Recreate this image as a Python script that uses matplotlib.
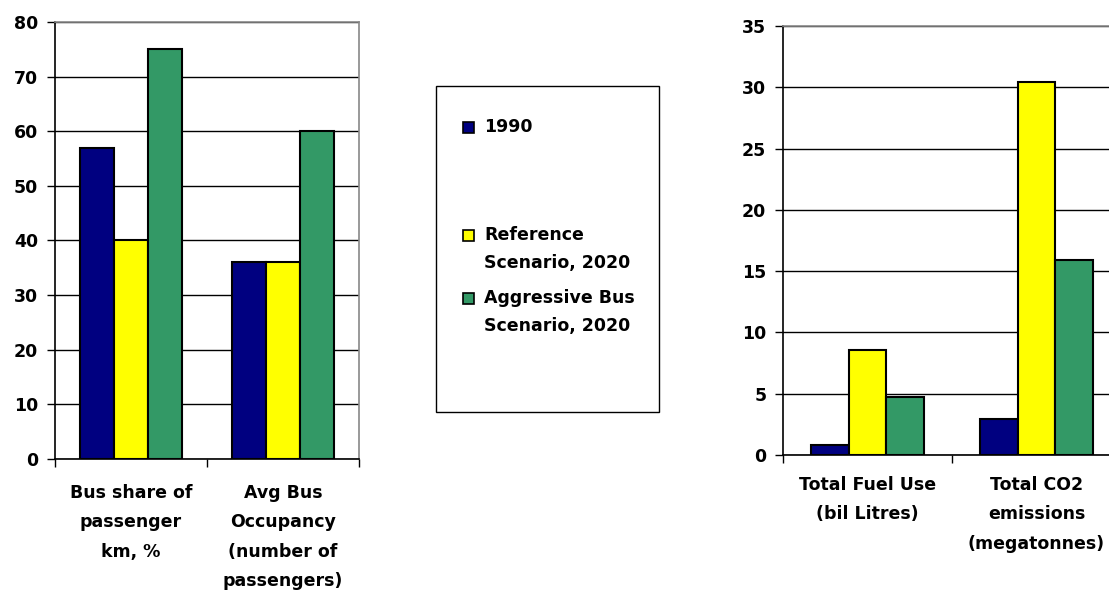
import numpy as np
import matplotlib
matplotlib.use("Agg")
import matplotlib.pyplot as plt
from matplotlib.patches import Rectangle

# data
series = ["1990", "Reference\nScenario, 2020", "Aggressive Bus\nScenario, 2020"]
colors = ["#000080", "#FFFF00", "#339966"]

left_cats = ["Bus share of\npassenger\nkm, %", "Avg Bus\nOccupancy\n(number of\npassengers)"]
left_vals = [[57, 36], [40, 36], [75, 60]]

right_cats = ["Total Fuel Use\n(bil Litres)", "Total CO2\nemissions\n(megatonnes)"]
right_vals = [[0.8, 2.9], [8.6, 30.4], [4.7, 15.9]]

plt.rcParams['font.family'] = ['DejaVu Sans']
plt.rcParams['font.weight'] = 'bold'
plt.rcParams['font.size'] = 12.5

fig = plt.figure(figsize=(11.09, 5.91), dpi=100)


def bar_panel(ax, cats, vals, ymax, ystep, pad):
    n = len(vals)
    w = 1 / (n + 1.5)
    x = np.arange(len(cats))
    for i, v in enumerate(vals):
        ax.bar(x + (i - (n - 1) / 2) * w, v, w, color=colors[i],
               edgecolor="black", linewidth=1.5, zorder=3)
    ax.set_xlim(-0.5, len(cats) - 0.5)
    ax.set_ylim(0, ymax)
    ax.set_yticks(np.arange(0, ymax + 0.1, ystep))
    ax.yaxis.grid(True, color="black", linewidth=1, zorder=0)
    ax.set_xticks(x)
    ax.set_xticklabels(cats, linespacing=1.82, va="top")
    ax.set_xticks(np.arange(-0.5, len(cats), 1), minor=True)
    ax.tick_params(axis="x", which="major", length=0, pad=pad)
    ax.tick_params(axis="x", which="minor", length=6, width=1)
    ax.tick_params(axis="y", length=6, width=1, pad=6)
    for t in ax.get_yticklabels() + ax.get_xticklabels():
        t.set_fontweight("bold")
    ax.spines["left"].set_color("black")
    ax.spines["bottom"].set_color("black")
    ax.spines["top"].set_color("#888888")
    ax.spines["right"].set_color("#888888")
    for s in ax.spines.values():
        s.set_linewidth(1.2)


ax1 = fig.add_axes([0.0496, 0.2234, 0.2741, 0.7394])
bar_panel(ax1, left_cats, left_vals, 80, 10, 18)

ax2 = fig.add_axes([0.706, 0.2301, 0.3048, 0.7259])
bar_panel(ax2, right_cats, right_vals, 35, 5, 15)

# legend box drawn in pixel-ish figure coords
W, H = 1109, 591
fig.patches.append(Rectangle((436 / W, 1 - 412 / H), (659 - 436) / W, (412 - 86) / H,
                             transform=fig.transFigure, facecolor="white",
                             edgecolor="black", linewidth=1))
ys = [127, 249, 312]
for lab, col, yc in zip(series, colors, ys):
    first_line_y = yc if "\n" not in lab else yc - 14
    fig.patches.append(Rectangle((463 / W, 1 - (first_line_y + 6) / H), 11 / W, 11 / H,
                                 transform=fig.transFigure, facecolor=col,
                                 edgecolor="black", linewidth=1.2))
    fig.text(484 / W, 1 - yc / H, lab, ha="left", va="center",
             fontweight="bold", fontsize=12.5, linespacing=1.75)

fig.savefig("out.png", dpi=100)
